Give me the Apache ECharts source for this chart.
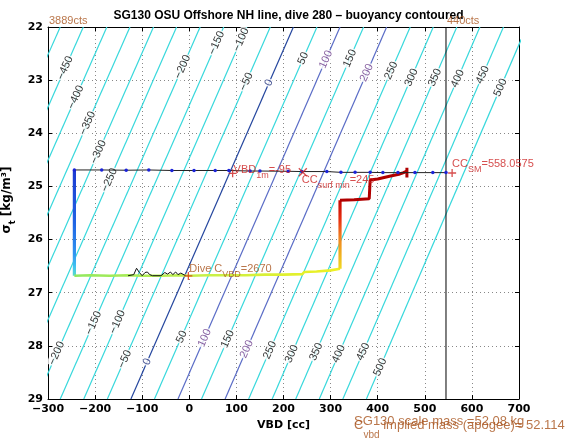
<!DOCTYPE html>
<html><head><meta charset="utf-8">
<script src="https://cdn.jsdelivr.net/npm/echarts@6/dist/echarts.min.js"></script>
<style>html,body{margin:0;padding:0;background:#fff}#c{width:569px;height:442px}</style>
</head><body><div id="c"></div>
<script>
// ---------------- data ----------------
const contourLevels = [-500,-450,-400,-350,-300,-250,-200,-150,-100,-50,0,50,100,150,200,250,300,350,400,450,500];
const contourVbdAtSigma22 = [-274,-225,-175,-126,-76,-27,23,73,122,172,221,271,320,370,419,469,518,568,617,667,716];
const contourVbdAtSigma29 = [-624,-574,-524,-474,-424,-374,-324,-274,-224,-174,-124,-74,-24,26,76,126,176,226,276,326,376];
const topLabelLevels = [-450,-400,-350,-300,-250,-200,-150,-100,-50,0,50,100,150,200,250,300,350,400,450,500];
const topLabelSigma  = [22.77,23.32,23.81,24.35,24.88,22.75,22.30,22.24,23.03,23.05,22.59,22.61,22.59,22.86,22.82,22.95,22.95,22.97,22.90,23.14];
const bottomLabelLevels = [-200,-150,-100,-50,0,50,100,150,200,250,300,350,400,450,500];
const bottomLabelSigma  = [28.14,27.57,27.55,28.25,28.30,27.83,27.85,27.87,28.06,28.08,28.15,28.11,28.15,28.11,28.40];

const surfVbd   = [-244,-186,-134,-86,-37,10,55,84,129,150,210,239,292,322,352,384,411,443,479,517,545];
const surfSigma = [24.69,24.69,24.695,24.69,24.70,24.70,24.70,24.70,24.71,24.71,24.715,24.72,24.72,24.735,24.735,24.735,24.74,24.74,24.74,24.74,24.74];

const descVbd   = [-244,-244,-244,-244,-244,-244];
const descSigma = [24.69,25.2,25.7,26.1,26.45,26.68];

const bottomVbd   = [-244,-210,-170,-130,-100,-60,-20,0,40,80,120,160,200,240,244,270,300,320];
const bottomSigma = [26.68,26.67,26.68,26.67,26.68,26.68,26.67,26.68,26.67,26.67,26.67,26.66,26.66,26.65,26.61,26.60,26.58,26.55];

const wiggleVbd   = [-130,-118,-112,-106,-100,-94,-89,-84,-78,-60,-52,-46,-40,-35,-29,-24,-18,-8];
const wiggleSigma = [26.68,26.66,26.54,26.62,26.68,26.62,26.61,26.66,26.68,26.68,26.62,26.65,26.61,26.66,26.61,26.66,26.63,26.68];

const ascVbd   = [320,320,320,320,320];
const ascSigma = [26.55,26.2,25.85,25.5,25.26];

const finVbd   = [320,350,382,383,384,400,425,445,455,462];
const finSigma = [25.26,25.25,25.23,25.05,24.88,24.86,24.81,24.77,24.74,24.71];
const endTickVbd = [462,462];
const endTickSigma = [24.65,24.83];

const vbdLimitLine = 545;        // 440 cts
const vbd1mMark = [92, 24.753];
const ccSurfMinMark = [241, 24.734];
const ccSmMark = [558, 24.747];
const diveCMark = [-2, 26.685];

// ---------------- helpers ----------------
const pairs = (xs, ys) => xs.map((x, i) => [x, ys[i]]);
const fmt = v => String(v).replace('-', '\u2212');
const cyan = '#38d8dc';
function lineColor(l){ if (l === 0) return '#24469e'; if (l === 100 || l === 200) return '#5a6cc6'; return cyan; }
function labelColor(l){ if (l === 0) return '#1a2a78'; if (l === 100 || l === 200) return '#6a3a8a'; return '#000'; }
function alongContour(level, sigma){
  const i = contourLevels.indexOf(level);
  const a = contourVbdAtSigma22[i], b = contourVbdAtSigma29[i];
  return a + (b - a) * (sigma - 22) / 7;
}
const RED = '#cc2222', BROWN = '#a8521c';
const plusPath = 'path://M0,5L10,5M5,0L5,10';
const crossPath = 'path://M0,0L10,10M10,0L0,10';

const series = [];
contourLevels.forEach((lv, i) => {
  series.push({
    type: 'line', silent: true, z: 2, clip: true, symbol: 'none',
    data: [[contourVbdAtSigma22[i], 22], [contourVbdAtSigma29[i], 29]],
    lineStyle: { color: lineColor(lv), width: 1.2 }
  });
});
const labelItems = [];
topLabelLevels.forEach((lv, i) => labelItems.push([lv, topLabelSigma[i]]));
bottomLabelLevels.forEach((lv, i) => labelItems.push([lv, bottomLabelSigma[i]]));
series.push({
  type: 'scatter', silent: true, z: 3, clip: false, symbolSize: 0.1,
  itemStyle: { color: 'transparent' },
  data: labelItems.map(([lv, sg]) => ({
    value: [alongContour(lv, sg), sg],
    label: { show: true, position: 'inside', formatter: fmt(lv), rotate: 66,
      color: labelColor(lv), fontSize: 11, fontFamily: 'Liberation Sans',
      backgroundColor: '#fff', padding: [0, 1] }
  }))
});
series.push({ type: 'line', silent: true, z: 4, symbol: 'none',
  data: [[vbdLimitLine, 22], [vbdLimitLine, 29]], lineStyle: { color: '#000', width: 1 } });
series.push({ type: 'line', z: 6, symbol: 'circle', symbolSize: 3.5,
  itemStyle: { color: '#1a22d8' }, lineStyle: { color: '#222', width: 1 },
  data: pairs(surfVbd, surfSigma) });
series.push({ type: 'line', z: 5, symbol: 'none', data: pairs(descVbd, descSigma),
  lineStyle: { width: 3.2, color: { type: 'linear', x: 0, y: 0, x2: 0, y2: 1, colorStops: [
    { offset: 0, color: '#1c38d0' }, { offset: 0.5, color: '#2064e4' }, { offset: 0.78, color: '#3094f0' },
    { offset: 0.9, color: '#40c4f0' }, { offset: 1, color: '#60e0c0' }] } } });
series.push({ type: 'line', z: 5, symbol: 'none', data: pairs(bottomVbd, bottomSigma),
  lineStyle: { width: 2.6, color: { type: 'linear', x: 0, y: 0, x2: 1, y2: 0, colorStops: [
    { offset: 0, color: '#90e860' }, { offset: 0.5, color: '#c8f048' }, { offset: 1, color: '#f0f020' }] } } });
series.push({ type: 'line', z: 6, symbol: 'none', data: pairs(wiggleVbd, wiggleSigma),
  lineStyle: { width: 1, color: '#111' } });
series.push({ type: 'line', z: 5, symbol: 'none', data: pairs(ascVbd, ascSigma),
  lineStyle: { width: 3.2, color: { type: 'linear', x: 0, y: 1, x2: 0, y2: 0, colorStops: [
    { offset: 0, color: '#f0e020' }, { offset: 0.47, color: '#f08020' }, { offset: 0.7, color: '#e83010' },
    { offset: 1, color: '#c00000' }] } } });
series.push({ type: 'line', z: 5, symbol: 'none', data: pairs(finVbd, finSigma),
  lineStyle: { width: 3, color: '#b00000' } });
series.push({ type: 'line', z: 5, symbol: 'none', data: pairs(endTickVbd, endTickSigma),
  lineStyle: { width: 3, color: '#b00000' } });

function mark(pt, path, color){
  return { type: 'scatter', z: 8, clip: false, symbol: path, symbolSize: 8,
    itemStyle: { color: 'none', borderColor: color, borderWidth: 1.3 }, data: [pt] };
}
series.push(mark(vbd1mMark, plusPath, RED));
series.push(mark(ccSurfMinMark, crossPath, RED));
series.push(mark(ccSmMark, plusPath, RED));
series.push(mark(diveCMark, plusPath, '#e02a10'));

function richStyles(color, mainSize, subSize, lh){
  return {
    m: { fontFamily: 'Liberation Sans', fontSize: mainSize, color: color, verticalAlign: 'top' },
    s: { fontFamily: 'Liberation Sans', fontSize: subSize, color: color, verticalAlign: 'bottom', lineHeight: lh }
  };
}
function note(pt, text, offset, color, mainSize, subSize, lh){
  return { type: 'scatter', z: 9, clip: false, silent: true, symbolSize: 0.1,
    itemStyle: { color: 'transparent' },
    data: [{ value: pt, label: { show: true, position: offset, align: 'left', verticalAlign: 'top',
      formatter: text, rich: richStyles(color, mainSize, subSize, lh) } }] };
}
series.push(note(vbd1mMark, '{m|VBD}{s|1m}{m|=-95}', [1, -9], RED, 11, 9, 15.5));
series.push(note(ccSurfMinMark, '{m|CC}{s|surf min}{m|=245}', [-1, 2], RED, 11, 9, 15.5));
series.push(note(ccSmMark, '{m|CC}{s|SM}{m|=558.0575}', [0, -14.5], RED, 11, 9, 15.5));
series.push(note(diveCMark, '{m|Dive C}{s|VBD}{m|=2670}', [1, -12.5], BROWN, 11, 9, 15.5));
series.push(note([-300, 22], '{m|3889cts}', [1, -11], BROWN, 11, 9, 11));
series.push(note([vbdLimitLine, 22], '{m|440cts}', [1, -11], BROWN, 11, 9, 11));
series.push(note([350, 29], '{m|SG130 scale mass =52.08 kg}', [0, 15.5], BROWN, 13, 10, 13));
series.push(note([350, 29], '{m|C}{s|vbd}{m| implied mass (apogee)= 52.114}', [0, 19.5], BROWN, 13, 10, 21.5));

const tickFont = { fontFamily: 'DejaVu Sans', fontWeight: 'bold', fontSize: 11, color: '#000' };
const option = {
  animation: false,
  backgroundColor: '#fff',
  title: { text: 'SG130 OSU Offshore NH line, dive 280 \u2013 buoyancy contoured', left: 283.5, top: 5,
    textAlign: 'center',
    textStyle: { fontFamily: 'Liberation Sans', fontWeight: 'bold', fontSize: 12, color: '#000' } },
  grid: { left: 48, right: 50, top: 27, bottom: 43, containLabel: false, outerBoundsMode: 'none' },
  xAxis: [
    { type: 'value', min: -300, max: 700, interval: 100, position: 'bottom',
      axisLine: { onZero: false, lineStyle: { color: '#000', width: 1 } },
      axisTick: { inside: true, length: 4, lineStyle: { color: '#000' } },
      axisLabel: Object.assign({ formatter: fmt, margin: 5 }, tickFont),
      splitLine: { show: true, lineStyle: { color: '#888', type: [1, 3], width: 1 } },
      name: 'VBD [cc]', nameLocation: 'middle', nameGap: 20,
      nameTextStyle: { fontFamily: 'DejaVu Sans', fontWeight: 'bold', fontSize: 11, color: '#000' } },
    { type: 'value', min: -300, max: 700, interval: 100, position: 'top',
      axisLine: { onZero: false, lineStyle: { color: '#000', width: 1 } },
      axisTick: { inside: true, length: 4, lineStyle: { color: '#000' } },
      axisLabel: { show: false }, splitLine: { show: false } }
  ],
  yAxis: [
    { type: 'value', min: 22, max: 29, interval: 1, inverse: true, position: 'left',
      axisLine: { onZero: false, lineStyle: { color: '#000', width: 1 } },
      axisTick: { inside: true, length: 4, lineStyle: { color: '#000' } },
      axisLabel: Object.assign({ formatter: fmt, margin: 5 }, tickFont),
      splitLine: { show: true, lineStyle: { color: '#888', type: [1, 3], width: 1 } },
      name: '{m|\u03c3}{s|t}{m| [kg/m\u00b3]}', nameLocation: 'middle', nameGap: 21, nameRotate: 90,
      nameTextStyle: { padding: [0, 0, 0, 26], rich: {
        m: { fontFamily: 'DejaVu Sans', fontWeight: 'bold', fontSize: 12, color: '#000', verticalAlign: 'top' },
        s: { fontFamily: 'DejaVu Sans', fontWeight: 'bold', fontSize: 8, color: '#000', verticalAlign: 'bottom', lineHeight: 16 } } } },
    { type: 'value', min: 22, max: 29, interval: 1, inverse: true, position: 'right',
      axisLine: { onZero: false, lineStyle: { color: '#000', width: 1 } },
      axisTick: { inside: true, length: 4, lineStyle: { color: '#000' } },
      axisLabel: { show: false }, splitLine: { show: false } }
  ],
  series: series
};
const chart = echarts.init(document.getElementById('c'), null, { renderer: 'canvas' });
chart.setOption(option);
</script>
</body></html>
